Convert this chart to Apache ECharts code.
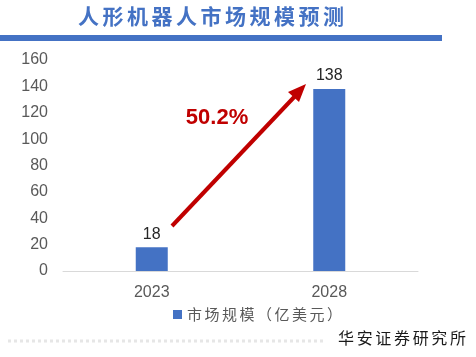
<!DOCTYPE html>
<html><head><meta charset="utf-8">
<script src="https://cdn.jsdelivr.net/npm/echarts@6/dist/echarts.min.js"></script>
<style>html,body{margin:0;padding:0;background:#fff}#c{width:476px;height:357px}</style>
</head><body><div id="c"></div>
<script>
const categories = ['2023', '2028'];
const values = [18, 138];
const seriesName = '市场规模（亿美元）';
const yTicks = [0, 20, 40, 60, 80, 100, 120, 140, 160];
const titleText = '人形机器人市场规模预测';
const growthLabel = '50.2%';
const sourceText = '华安证券研究所';

const chart = echarts.init(document.getElementById('c'), null, {renderer: 'canvas'});
const spaced = s => s.split('').join('\u2006');
chart.setOption({
  animation: false,
  backgroundColor: '#fff',
  grid: {left: 63, right: 58, top: 60, bottom: 86},
  xAxis: {
    type: 'category', data: categories,
    axisLine: {lineStyle: {color: '#D9D9D9', width: 1}},
    axisTick: {show: false},
    axisLabel: {color: '#595959', fontSize: 16, margin: 14, fontFamily: 'Liberation Sans'}
  },
  yAxis: {
    type: 'value', min: yTicks[0], max: yTicks[yTicks.length - 1], interval: 20,
    axisLine: {show: false}, axisTick: {show: false}, splitLine: {show: false},
    axisLabel: {color: '#595959', fontSize: 16, margin: 15, fontFamily: 'Liberation Sans'}
  },
  legend: {
    bottom: 30, left: 168, itemWidth: 9, itemHeight: 9, itemGap: 5,
    icon: 'rect',
    textStyle: {color: '#595959', fontSize: 15, fontFamily: 'Noto Sans CJK SC'},
    formatter: n => spaced(n)
  },
  series: [{
    type: 'bar', name: seriesName, data: values, barWidth: 32,
    itemStyle: {color: '#4472C4'},
    label: {show: true, position: 'top', color: '#262626', fontSize: 16, distance: 5, fontFamily: 'Liberation Sans'}
  }],
  graphic: [
    {type: 'text', left: 78, top: 6, style: {text: spaced(titleText), fill: '#4472C4', font: 'bold 21px "Noto Sans CJK SC"'}},
    {type: 'rect', shape: {x: 0, y: 35, width: 442, height: 6}, style: {fill: '#4472C4'}},
    {type: 'line', shape: {x1: 172, y1: 226, x2: 298, y2: 93}, style: {stroke: '#C00000', lineWidth: 4}},
    {type: 'polygon', shape: {points: [[306, 84], [288, 92], [299, 102]]}, style: {fill: '#C00000'}},
    {type: 'text', x: 217, y: 118, style: {text: growthLabel, fill: '#C00000', font: 'bold 22px "Liberation Sans"', align: 'center', verticalAlign: 'middle'}},
    {type: 'line', shape: {x1: 8, y1: 341, x2: 325, y2: 341}, style: {stroke: '#E6E6E6', lineWidth: 3, lineDash: [3, 3]}},
    {type: 'text', right: 10, top: 330, style: {text: spaced(sourceText), fill: '#1a1a1a', font: '16px "Noto Sans CJK SC"'}}
  ]
});
</script></body></html>
